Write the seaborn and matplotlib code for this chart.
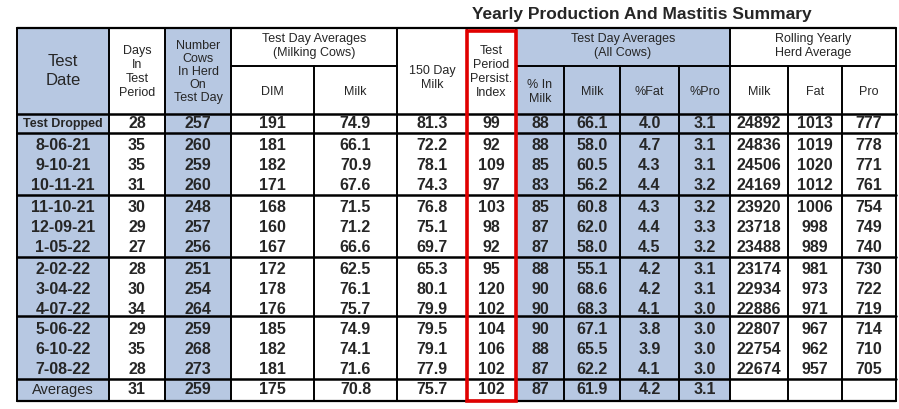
import matplotlib
matplotlib.use("Agg")
import matplotlib.pyplot as plt
import seaborn as sns
from matplotlib.patches import Rectangle

sns.set_theme(style="white")
plt.rcParams['font.family'] = ['Liberation Sans', 'DejaVu Sans']

# data
test_dates = ["Test Dropped", "8-06-21", "9-10-21", "10-11-21", "11-10-21", "12-09-21", "1-05-22",
              "2-02-22", "3-04-22", "4-07-22", "5-06-22", "6-10-22", "7-08-22"]
days = [28, 35, 35, 31, 30, 29, 27, 28, 30, 34, 29, 35, 28]
cows = [257, 260, 259, 260, 248, 257, 256, 251, 254, 264, 259, 268, 273]
dim = [191, 181, 182, 171, 168, 160, 167, 172, 178, 176, 185, 182, 181]
milk = ["74.9", "66.1", "70.9", "67.6", "71.5", "71.2", "66.6", "62.5", "76.1", "75.7", "74.9", "74.1", "71.6"]
milk150 = ["81.3", "72.2", "78.1", "74.3", "76.8", "75.1", "69.7", "65.3", "80.1", "79.9", "79.5", "79.1", "77.9"]
persist = [99, 92, 109, 97, 103, 98, 92, 95, 120, 102, 104, 106, 102]
pct_in_milk = [88, 88, 85, 83, 85, 87, 87, 88, 90, 90, 90, 88, 87]
all_milk = ["66.1", "58.0", "60.5", "56.2", "60.8", "62.0", "58.0", "55.1", "68.6", "68.3", "67.1", "65.5", "62.2"]
all_fat = ["4.0", "4.7", "4.3", "4.4", "4.3", "4.4", "4.5", "4.2", "4.2", "4.1", "3.8", "3.9", "4.1"]
all_pro = ["3.1", "3.1", "3.1", "3.2", "3.2", "3.3", "3.2", "3.1", "3.1", "3.0", "3.0", "3.0", "3.0"]
roll_milk = [24892, 24836, 24506, 24169, 23920, 23718, 23488, 23174, 22934, 22886, 22807, 22754, 22674]
roll_fat = [1013, 1019, 1020, 1012, 1006, 998, 989, 981, 973, 971, 967, 962, 957]
roll_pro = [777, 778, 771, 761, 754, 749, 740, 730, 722, 719, 714, 710, 705]
averages = ["Averages", "31", "259", "175", "70.8", "75.7", "102", "87", "61.9", "4.2", "3.1", "", "", ""]

columns = [test_dates, days, cows, dim, milk, milk150, persist, pct_in_milk,
           all_milk, all_fat, all_pro, roll_milk, roll_fat, roll_pro]

# layout (pixels)
xs = [17, 109, 165, 231, 314, 397, 467, 516, 564, 620, 679, 730, 788, 842, 896]
blue_cols = {0, 2, 7, 8, 9, 10}
blue = "#b7c8e2"
top, sub, hdr_bot = 28, 66, 114
drop_bot = 133
group_tops = [133, 195, 257, 316, 379]
bottom = 401

fig = plt.figure(figsize=(8.99, 4.09), dpi=100)
ax = fig.add_axes([0, 0, 1, 1])
ax.set_xlim(0, 899)
ax.set_ylim(409, 0)
ax.axis("off")

for c in blue_cols:
    ax.add_patch(Rectangle((xs[c], top), xs[c + 1] - xs[c], bottom - top, color=blue, lw=0, zorder=0))

lw = 1.4
def hline(y, x0=xs[0], x1=xs[-1], w=lw):
    ax.plot([x0, x1], [y, y], color="black", lw=w, zorder=2)
def vline(x, y0, y1, w=lw):
    ax.plot([x, x], [y0, y1], color="black", lw=w, zorder=2)

for y in [top, hdr_bot, drop_bot] + group_tops[1:] + [bottom]:
    hline(y, w=1.8 if y not in (top, bottom) else 1.6)
hline(sub, xs[3], xs[5])
hline(sub, xs[7], xs[11])
hline(sub, xs[11], xs[14])
for i, x in enumerate(xs):
    if i in (4, 8, 9, 10, 12, 13):
        vline(x, sub, bottom)
    else:
        vline(x, top, bottom)

# headers
hs = 9
ls = 1.2
def cx(c):
    return (xs[c] + xs[c + 1]) / 2
ax.text(cx(0), 71, "Test\nDate", ha="center", va="center", fontsize=12, linespacing=1.4)
ax.text(cx(1), 72, "Days\nIn\nTest\nPeriod", ha="center", va="center", fontsize=hs, linespacing=ls)
ax.text(cx(2), 72, "Number\nCows\nIn Herd\nOn\nTest Day", ha="center", va="center", fontsize=hs, linespacing=1.12)
ax.text((xs[3] + xs[5]) / 2, 46, "Test Day Averages\n(Milking Cows)", ha="center", va="center", fontsize=hs, linespacing=ls)
ax.text(cx(3), 92, "DIM", ha="center", va="center", fontsize=hs)
ax.text(cx(4), 92, "Milk", ha="center", va="center", fontsize=hs)
ax.text(cx(5), 78, "150 Day\nMilk", ha="center", va="center", fontsize=hs, linespacing=ls)
ax.text(cx(6), 72, "Test\nPeriod\nPersist.\nIndex", ha="center", va="center", fontsize=hs, linespacing=ls)
ax.text((xs[7] + xs[11]) / 2, 46, "Test Day Averages\n(All Cows)", ha="center", va="center", fontsize=hs, linespacing=ls)
ax.text(cx(7), 92, "% In\nMilk", ha="center", va="center", fontsize=hs, linespacing=ls)
for c, t in zip([8, 9, 10, 11, 12, 13], ["Milk", "%Fat", "%Pro", "Milk", "Fat", "Pro"]):
    ax.text(cx(c), 92, t, ha="center", va="center", fontsize=hs)
ax.text((xs[11] + xs[14]) / 2, 46, "Rolling Yearly\nHerd Average", ha="center", va="center", fontsize=hs, linespacing=ls)

ax.text(642, 14, "Yearly Production And Mastitis Summary", ha="center", va="center",
        fontsize=12.5, fontweight="bold")

# data rows
row_y = [124]
for g in range(4):
    for r in range(3):
        row_y.append(group_tops[g] + 13 + r * 20)
for c, col in enumerate(columns):
    for r, v in enumerate(col):
        fs = 9 if (c == 0 and r == 0) else 11.5
        ax.text(cx(c), row_y[r], str(v), ha="center", va="center", fontsize=fs, fontweight="bold")
for c, v in enumerate(averages):
    ax.text(cx(c), 390, v, ha="center", va="center", fontsize=10.5 if c == 0 else 11.5,
            fontweight="normal" if c == 0 else "bold")

# red highlight
ax.add_patch(Rectangle((xs[6], top + 3), xs[7] - xs[6], bottom - top - 3, fill=False,
                       edgecolor="#e00000", lw=2.6, zorder=3))

fig.savefig("out.png", dpi=100)
